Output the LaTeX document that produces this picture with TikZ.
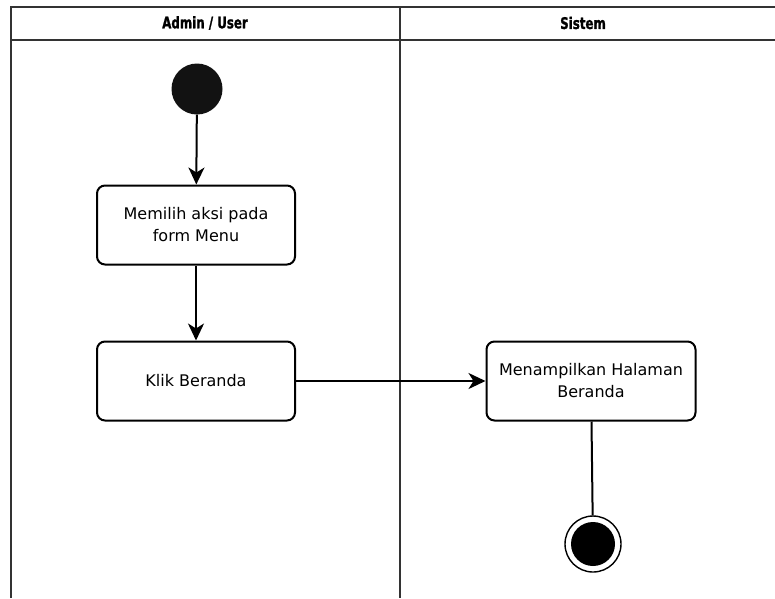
\documentclass[tikz,border=0pt]{standalone}
\usepackage{fontspec}
\setmainfont{DejaVu Sans}
\newfontfamily\lanefont{DejaVu Sans}[FakeStretch=0.74,FakeBold=1.2]
\usetikzlibrary{arrows.meta}
\begin{document}
\begin{tikzpicture}[
    x=1pt, y=-1pt,
    >={Stealth[length=17pt,width=16pt,inset=5pt]},
    action/.style={draw, line width=2pt, rounded corners=8pt, minimum width=198pt, minimum height=79pt, align=center, font=\fontsize{16}{22}\selectfont},
    flow/.style={->, line width=2pt},
    lane/.style={line width=1.6pt, draw=black!80},
    lanetitle/.style={font=\lanefont\fontsize{16}{18}\selectfont\bfseries}
]
  \useasboundingbox (0,0) rectangle (775,598);

  % Swimlanes
  \draw[lane] (11,598) -- (11,7) -- (776,7);
  \draw[lane] (11,40) -- (776,40);
  \draw[lane] (400,7) -- (400,598);
  \node[lanetitle] (admin) at (205,23) {Admin / User};
  \node[lanetitle] (sistem) at (583,23) {Sistem};

  % Admin / User actions
  \node[circle, fill=black!93, minimum size=51pt, inner sep=0pt] (start) at (197,89) {};
  \node[action] (pilih) at (196,225) {Memilih aksi pada\\form Menu};
  \node[action] (klik) at (196,381) {Klik Beranda};

  % Sistem actions
  \node[action, minimum width=209pt] (tampil) at (591,381) {Menampilkan Halaman\\Beranda};
  \node[circle, draw, line width=1.4pt, minimum size=56pt, inner sep=0pt] (end) at (593,544) {};
  \node[circle, fill=black, minimum size=44pt, inner sep=0pt] (endfill) at (end) {};

  \draw[flow] (start) -- (pilih);
  \draw[flow] (pilih) -- (klik);
  \draw[flow] (klik) -- (tampil);
  \draw[line width=2pt] (tampil) -- (end);
\end{tikzpicture}
\end{document}
